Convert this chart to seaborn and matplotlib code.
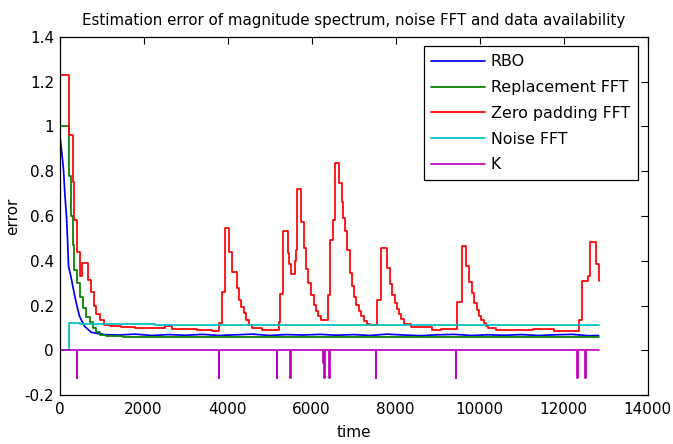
import numpy as np
import pandas as pd
import seaborn as sns
import matplotlib.pyplot as plt
from matplotlib.ticker import FuncFormatter

# Values (step curves: value holds from each time to the next).
red_t = [0, 230, 310, 350, 415, 480, 540, 690, 750, 810, 870, 955, 1050, 1195, 1475, 1790,
         2510, 2690, 3265, 3625, 3790, 3870, 3940, 4040, 4110, 4220, 4280, 4330, 4390, 4440,
         4510, 4590, 4820, 5215, 5255, 5320, 5430, 5465, 5500, 5600, 5640, 5655, 5760, 5815,
         5870, 5925, 5990, 6050, 6110, 6165, 6230, 6385, 6450, 6505, 6570, 6665, 6720, 6760,
         6800, 6850, 6905, 6960, 7015, 7070, 7125, 7190, 7245, 7325, 7400, 7550, 7645, 7805,
         7865, 7925, 7980, 8025, 8080, 8140, 8200, 8360, 8880, 9080, 9475, 9595, 9690, 9755,
         9820, 9875, 9930, 9985, 10040, 10100, 10155, 10200, 10390, 11270, 11785, 12360,
         12450, 12580, 12640, 12765, 12835]
red_v = [1.23, 0.96, 0.75, 0.58, 0.44, 0.33, 0.39, 0.315, 0.26, 0.20, 0.16, 0.135, 0.115, 0.107,
         0.102, 0.099, 0.107, 0.095, 0.089, 0.085, 0.12, 0.26, 0.546, 0.44, 0.35, 0.28, 0.226,
         0.195, 0.168, 0.137, 0.114, 0.098, 0.092, 0.125, 0.25, 0.534, 0.434, 0.387, 0.342, 0.40,
         0.449, 0.72, 0.571, 0.457, 0.364, 0.30, 0.248, 0.204, 0.174, 0.151, 0.137, 0.248, 0.494,
         0.58, 0.836, 0.747, 0.662, 0.59, 0.531, 0.449, 0.345, 0.285, 0.236, 0.204, 0.174, 0.154,
         0.129, 0.117, 0.112, 0.226, 0.457, 0.367, 0.297, 0.248, 0.211, 0.184, 0.163, 0.141,
         0.117, 0.102, 0.089, 0.096, 0.214, 0.468, 0.375, 0.305, 0.256, 0.211, 0.181, 0.154,
         0.137, 0.122, 0.110, 0.10, 0.092, 0.095, 0.0875, 0.137, 0.31, 0.334, 0.486, 0.385, 0.31]

green_t = [0, 215, 275, 315, 355, 420, 480, 560, 640, 720, 800, 880, 960, 1100, 1500, 2000,
           2500, 3000, 3500, 4000, 4500, 5000, 5500, 6000, 6500, 7000, 7500, 8000, 8500, 9000,
           9500, 10000, 10500, 11000, 11500, 12000, 12500, 12835]
green_v = [1.0, 0.78, 0.60, 0.47, 0.36, 0.30, 0.24, 0.19, 0.15, 0.125, 0.10, 0.08, 0.07, 0.063,
           0.058, 0.060, 0.057, 0.059, 0.061, 0.058, 0.060, 0.057, 0.060, 0.058, 0.061, 0.059,
           0.057, 0.060, 0.058, 0.061, 0.057, 0.059, 0.061, 0.057, 0.059, 0.058, 0.060, 0.060]

blue_t = [15, 48, 96, 127, 167, 191, 215, 271, 318, 398, 478, 597, 757, 1075, 1400, 1800, 2200,
          2600, 3000, 3400, 3800, 4200, 4600, 5000, 5400, 5800, 6200, 6600, 7000, 7400, 7800,
          8200, 8600, 9000, 9400, 9800, 10200, 10600, 11000, 11400, 11800, 12200, 12600, 12835]
blue_v = [0.948, 0.895, 0.806, 0.70, 0.598, 0.494, 0.375, 0.33, 0.285, 0.211, 0.151, 0.107,
          0.08, 0.07, 0.068, 0.072, 0.066, 0.070, 0.067, 0.071, 0.066, 0.069, 0.072, 0.066,
          0.070, 0.068, 0.071, 0.067, 0.070, 0.066, 0.072, 0.068, 0.065, 0.069, 0.071, 0.066,
          0.069, 0.067, 0.070, 0.066, 0.069, 0.071, 0.065, 0.066]

cyan_t = [0, 215, 478, 2270, 12835]
cyan_v = [0, 0.122, 0.117, 0.111, 0.111]

# K: zero with short downward spikes at these times
k_end = 12835
k_dips = [414, 3790, 5175, 5495, 6275, 6305, 6425, 7525, 9435, 12330, 12520]
k_depth = [-0.124, -0.124, -0.124, -0.124, -0.055, -0.124, -0.124, -0.124, -0.124, -0.124, -0.124]

k_t = [0]
k_v = [0]
for d, v in zip(k_dips, k_depth):
    k_t += [d, d + 12]
    k_v += [v, 0]
k_t.append(k_end)
k_v.append(0)

sns.set_style('white')
plt.rcParams['font.family'] = ['DejaVu Sans']
plt.rcParams['text.color'] = 'black'
plt.rcParams['axes.labelcolor'] = 'black'

fig = plt.figure(figsize=(6.73, 4.44), dpi=100)
ax = fig.add_axes([59.5 / 673, 49 / 444, 588 / 673, 358 / 444])

series = [
    ('RBO', blue_t, blue_v, '#0000ff', 'default'),
    ('Replacement FFT', green_t, green_v, '#008000', 'steps-post'),
    ('Zero padding FFT', red_t, red_v, '#ff0000', 'steps-post'),
    ('Noise FFT', cyan_t, cyan_v, '#00bfbf', 'steps-post'),
    ('K', k_t, k_v, '#bf00bf', 'steps-post'),
]
for name, t, v, c, ds in series:
    sns.lineplot(x=t, y=v, ax=ax, color=c, label=name, drawstyle=ds,
                 estimator=None, sort=False, linewidth=1.25)

ax.set_xlim(0, 14000)
ax.set_ylim(-0.2, 1.4)
ax.set_xticks(np.arange(0, 14001, 2000))
ax.set_yticks(np.arange(-0.2, 1.41, 0.2))
ax.yaxis.set_major_formatter(FuncFormatter(lambda v, p: '%g' % round(v, 2)))
ax.tick_params(direction='in', length=5, width=0.8, top=True, right=True,
               labelsize=11, colors='black')
ax.tick_params(axis='x', pad=5)
ax.tick_params(axis='y', pad=4)
for s in ax.spines.values():
    s.set_visible(True)
    s.set_color('black')
    s.set_linewidth(0.9)

ax.set_title('Estimation error of magnitude spectrum, noise FFT and data availability',
             fontsize=10.8, pad=9)
ax.set_xlabel('time', fontsize=11, labelpad=6)
ax.set_ylabel('error', fontsize=11, labelpad=3)

leg = ax.legend(loc='upper right', fontsize=11.4, frameon=True, fancybox=False,
                framealpha=1, edgecolor='black', borderaxespad=0.6,
                handlelength=3.4, handletextpad=0.35, labelspacing=0.68, borderpad=0.5)
leg.get_frame().set_linewidth(0.9)

fig.savefig('out.png', dpi=100, facecolor='white')
